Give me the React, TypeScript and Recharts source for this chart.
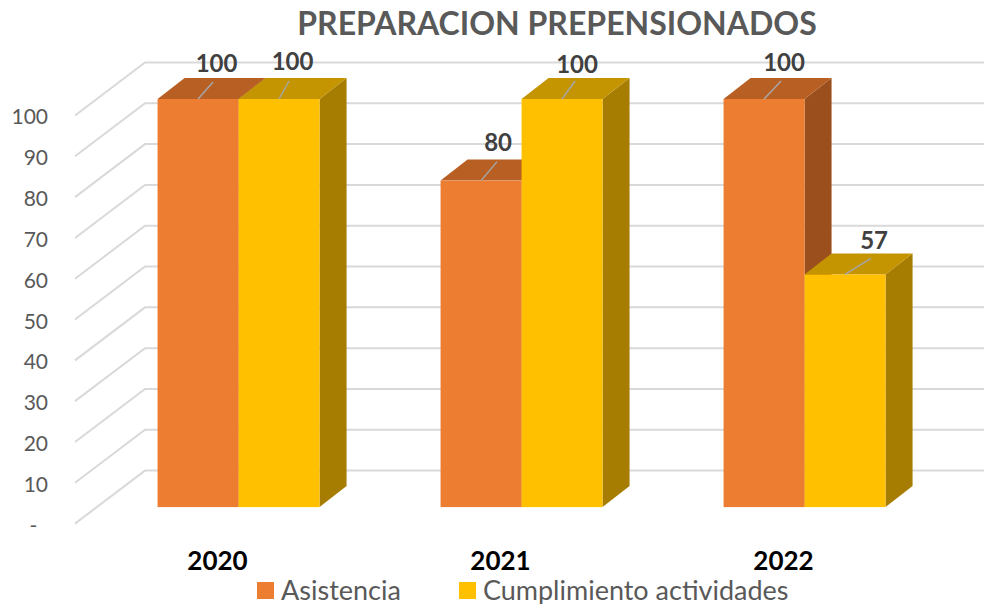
import { BarChart, Bar, XAxis, YAxis, CartesianGrid, Legend, LabelList } from 'recharts';

const years = ['2020', '2021', '2022'];
const asistencia = [100, 80, 100];
const cumplimiento = [100, 100, 57];
const yTicks = [0, 10, 20, 30, 40, 50, 60, 70, 80, 90, 100];

const data = years.map((year, i) => ({
  year,
  asistencia: asistencia[i],
  cumplimiento: cumplimiento[i],
}));

const FONT = 'Lato, sans-serif';

// fake 3d: where the bars sit between the front of the floor and the back wall
const BAR_DX = 22;
const BAR_DY = -16.5;
const DEPTH_DX = 27;
const DEPTH_DY = -21;
const WALL_DX = 70;
const WALL_DY = -53;

function box(top: string, side: string) {
  return (props: any) => {
    const x = props.x + BAR_DX;
    const y = props.y + BAR_DY;
    const { width: w, height: h, fill } = props;
    return (
      <g>
        <polygon
          points={`${x + w},${y} ${x + w + DEPTH_DX},${y + DEPTH_DY} ${x + w + DEPTH_DX},${y + h + DEPTH_DY} ${x + w},${y + h}`}
          fill={side}
        />
        <polygon
          points={`${x},${y} ${x + DEPTH_DX},${y + DEPTH_DY} ${x + w + DEPTH_DX},${y + DEPTH_DY} ${x + w},${y}`}
          fill={top}
        />
        <rect x={x} y={y} width={w} height={h} fill={fill} />
      </g>
    );
  };
}

// labels were dragged by hand in the original, so each one has its own nudge
function leaderLabel(nudges: number[][]) {
  return (props: any) => {
    const [lx, ly, tx, ty] = nudges[props.index];
    const cx = props.x + props.width / 2 + BAR_DX;
    const cy = props.y + BAR_DY;
    return (
      <g>
        <line x1={cx} y1={cy} x2={cx + lx} y2={cy + ly} stroke="#a6a6a6" strokeWidth={1.5} />
        <text
          x={cx + tx}
          y={cy + ty}
          textAnchor="middle"
          dominantBaseline="central"
          fontFamily={FONT}
          fontWeight={700}
          fontSize={24}
          fill="#404040"
        >
          {props.value}
        </text>
      </g>
    );
  };
}

const asistenciaNudges = [
  [15, -17, 18.5, -37],
  [16, -19, 17, -39],
  [17, -18, 20, -38],
];
const cumplimientoNudges = [
  [10, -18, 13.5, -39],
  [13, -18, 15, -36],
  [26, -16, 29, -35],
];

function wallLine(props: any) {
  const { x1, y1, x2, key } = props;
  return (
    <polyline
      key={key}
      points={`${x1},${y1} ${x1 + WALL_DX},${y1 + WALL_DY} ${x2 + WALL_DX},${y1 + WALL_DY}`}
      fill="none"
      stroke="#d9d9d9"
      strokeWidth={2}
    />
  );
}

function LegendRow(props: any) {
  return (
    <div style={{ display: 'flex', fontFamily: FONT, fontSize: 27, color: '#595959', lineHeight: '26px' }}>
      {(props.payload || []).map((item: any, i: number) => (
        <div key={item.value} style={{ display: 'flex', alignItems: 'center', marginRight: i === 0 ? 58 : 0 }}>
          <span style={{ width: 17, height: 17, background: item.color, marginRight: 7, display: 'inline-block' }} />
          {item.value}
        </div>
      ))}
    </div>
  );
}

export default function App() {
  return (
    <div style={{ position: 'absolute', left: 0, top: 0, width: 984, height: 604, background: '#fff' }}>
      <div
        style={{
          position: 'absolute',
          left: 0,
          top: 3,
          width: 1114,
          textAlign: 'center',
          fontFamily: FONT,
          fontWeight: 700,
          fontSize: 32,
          color: '#595959',
          whiteSpace: 'nowrap',
        }}
      >
        PREPARACION PREPENSIONADOS
      </div>
      <BarChart
        width={984}
        height={604}
        data={data}
        margin={{ top: 115.5, right: 60, left: 0, bottom: 0 }}
        barCategoryGap="21.4%"
        barGap={0}
      >
        <CartesianGrid vertical={false} horizontal={wallLine} />
        <XAxis
          dataKey="year"
          height={80.4}
          axisLine={false}
          tickLine={false}
          tickSize={0}
          tickMargin={28}
          tick={{ fontFamily: FONT, fontWeight: 700, fontSize: 26, fill: '#000', dx: 1 }}
        />
        <YAxis
          width={75}
          domain={[0, 100]}
          ticks={yTicks}
          interval={0}
          axisLine={false}
          tickLine={false}
          tickSize={0}
          tickMargin={27}
          tickFormatter={(v: number) => (v === 0 ? '-\u00a0\u00a0' : String(v))}
          tick={{ fontFamily: FONT, fontSize: 21, fill: '#595959', dy: 1.5 }}
        />
        <Legend
          layout="horizontal"
          verticalAlign="middle"
          align="center"
          content={<LegendRow />}
          wrapperStyle={{ left: 257, top: 577, width: 700 }}
        />
        <Bar
          dataKey="asistencia"
          name="Asistencia"
          fill="#ed7d31"
          shape={box('#b86024', '#9a4f1c')}
          isAnimationActive={false}
        >
          <LabelList dataKey="asistencia" content={leaderLabel(asistenciaNudges)} />
        </Bar>
        <Bar
          dataKey="cumplimiento"
          name="Cumplimiento actividades"
          fill="#ffc000"
          shape={box('#c49500', '#a67d00')}
          isAnimationActive={false}
        >
          <LabelList dataKey="cumplimiento" content={leaderLabel(cumplimientoNudges)} />
        </Bar>
      </BarChart>
    </div>
  );
}
